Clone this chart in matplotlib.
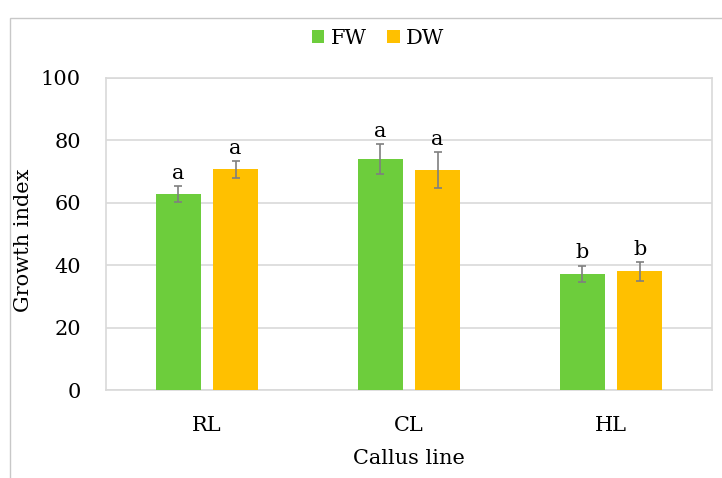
import matplotlib
matplotlib.use("Agg")
import matplotlib.pyplot as plt
import matplotlib.patches as mpatches
import numpy as np

categories = ["RL", "CL", "HL"]
fw_values = [62.8, 74.0, 37.3]
dw_values = [70.7, 70.6, 38.0]
fw_err = [2.6, 4.8, 2.6]
dw_err = [2.8, 5.7, 3.1]
fw_letters = ["a", "a", "b"]
dw_letters = ["a", "a", "b"]
yticks = [0, 20, 40, 60, 80, 100]

plt.rcParams['font.family'] = ['DejaVu Serif']

fig = plt.figure(figsize=(7.22, 4.78), dpi=100)
ax = fig.add_axes([106/722, 1-390/478, (712-106)/722, (390-78)/478])

x = np.arange(len(categories))
w = 0.223
off = 0.1415
green = '#6dcd3c'
orange = '#ffc000'
ecol = '#7f7f7f'
fs = 15

ax.bar(x - off, fw_values, w, color=green, label='FW', zorder=3)
ax.bar(x + off, dw_values, w, color=orange, label='DW', zorder=3)
ax.errorbar(x - off, fw_values, yerr=fw_err, fmt='none', ecolor=ecol, elinewidth=1.2, capsize=3, capthick=1.2, zorder=4)
ax.errorbar(x + off, dw_values, yerr=dw_err, fmt='none', ecolor=ecol, elinewidth=1.2, capsize=3, capthick=1.2, zorder=4)

for xi, v, e, t in zip(x - off, fw_values, fw_err, fw_letters):
    ax.text(xi, v + e + 1.0, t, ha='center', va='bottom', fontsize=fs)
for xi, v, e, t in zip(x + off, dw_values, dw_err, dw_letters):
    ax.text(xi, v + e + 1.0, t, ha='center', va='bottom', fontsize=fs)

ax.set_xlim(-0.5, 2.5)
ax.set_ylim(0, 100)
ax.set_yticks(yticks)
ax.set_xticks(x)
ax.set_xticklabels(categories)
ax.tick_params(axis='both', length=0, labelsize=fs)
ax.tick_params(axis='y', pad=18)
ax.tick_params(axis='x', pad=19)
ax.yaxis.grid(True, color='#d9d9d9', linewidth=1.2, zorder=0)
ax.set_axisbelow(True)
for s in ax.spines.values():
    s.set_color('#d9d9d9')
    s.set_linewidth(1.2)

ax.set_ylabel('Growth index', fontsize=fs)
ax.yaxis.set_label_coords((33-106)/606, 0.48)
ax.set_xlabel('Callus line', fontsize=fs)
ax.xaxis.set_label_coords(0.5, (390-449)/312)

fig.legend(loc='center', bbox_to_anchor=(378/722, 1-38/478), ncol=2, frameon=False,
           fontsize=fs, handlelength=0.6, handleheight=0.6, handletextpad=0.3, columnspacing=1.0)

frame = mpatches.Rectangle((10/722, -0.1), 1.0, 1.1 - 18/478, transform=fig.transFigure,
                           fill=False, edgecolor='#c8c8c8', linewidth=1.0)
fig.add_artist(frame)

fig.savefig('out.png', dpi=100)
